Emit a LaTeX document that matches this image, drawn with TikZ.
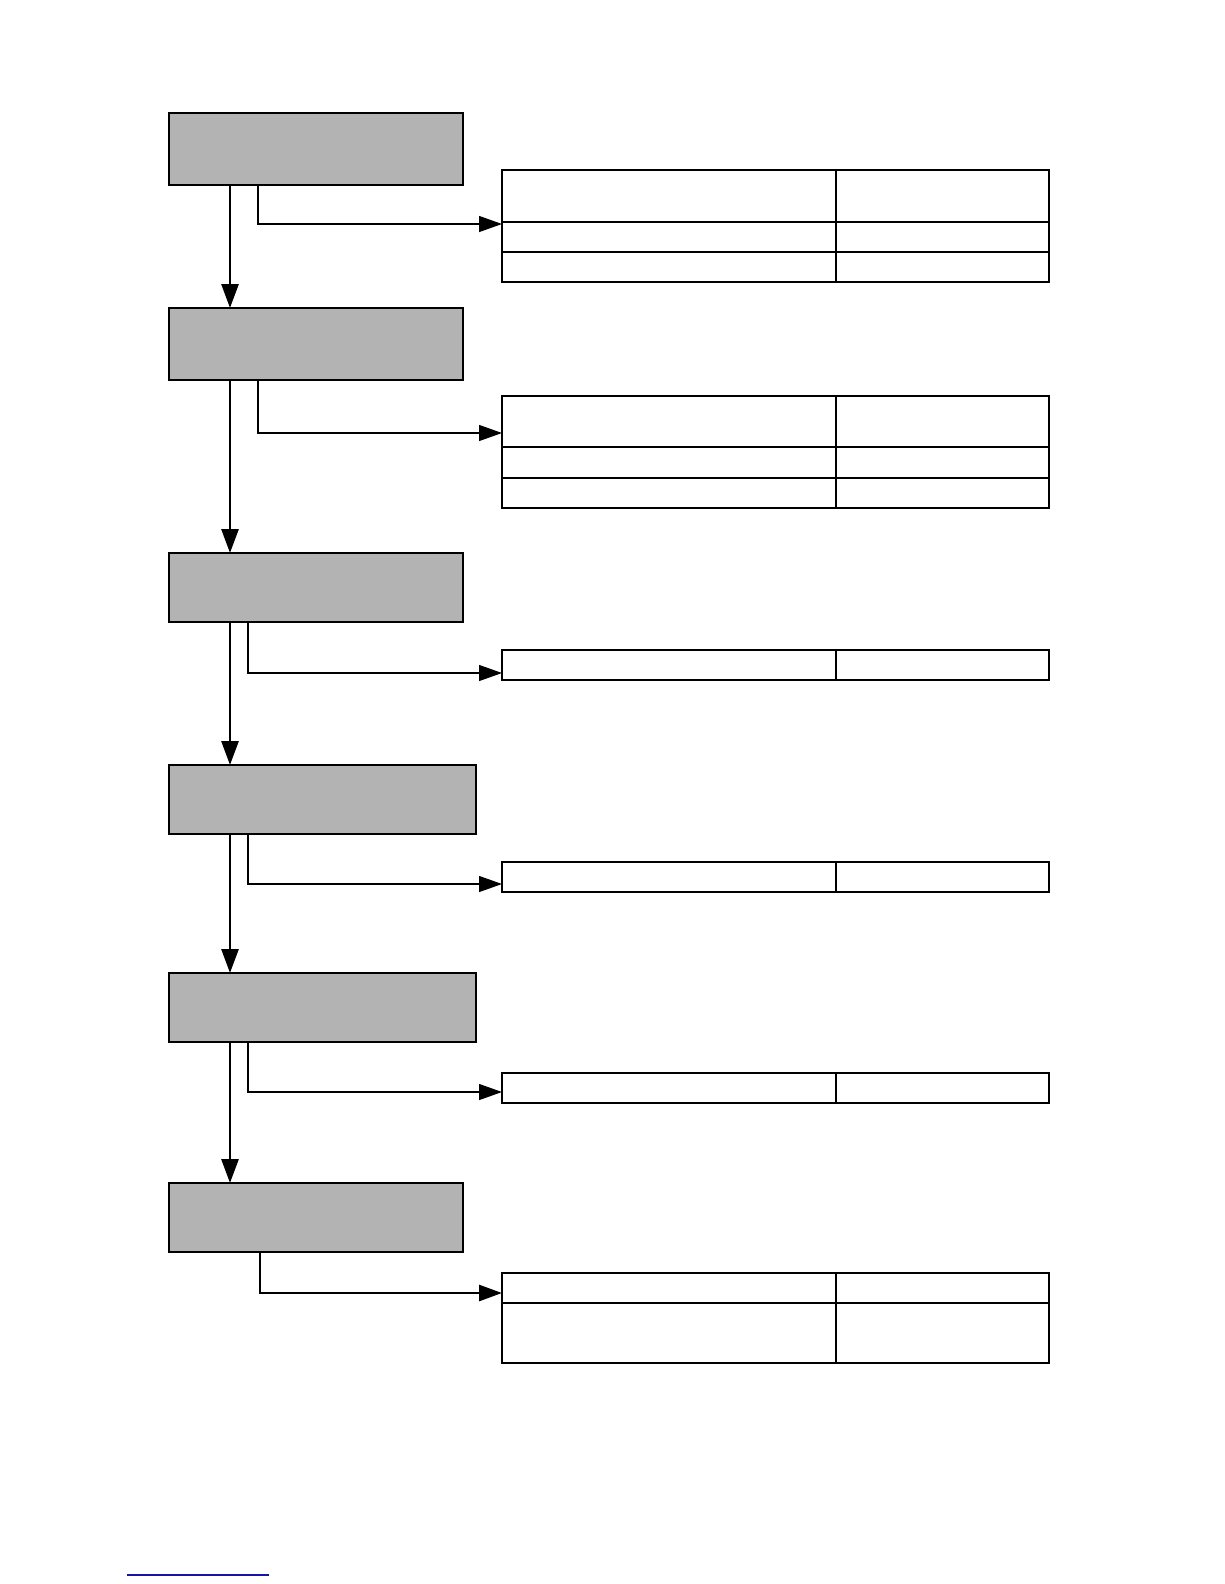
\documentclass[tikz,border=0pt]{standalone}
\usetikzlibrary{arrows.meta}

\definecolor{boxgrey}{RGB}{179,179,179}
\definecolor{linkblue}{RGB}{20,20,170}

\tikzset{
  stepbox/.style={draw, fill=boxgrey, line width=1.2pt, inner sep=0pt, outer sep=0pt, anchor=north west},
  tablebox/.style={draw, line width=1.3pt, inner sep=0pt, outer sep=0pt, anchor=north west, minimum width=547pt},
  mainarrow/.style={line width=2.8pt, -{Triangle[length=24pt,width=17pt]}},
  sidearrow/.style={line width=1.3pt, -{Triangle[length=23pt,width=16pt]}},
  rowline/.style={line width=1.3pt}
}

\begin{document}
\begin{tikzpicture}[x=1pt,y=-1pt]
\useasboundingbox (0,0) rectangle (1224,1584);

%Shape: grey steps
\node[stepbox, minimum width=294pt, minimum height=72pt] (s1) at (169,113) {};
\node[stepbox, minimum width=294pt, minimum height=72pt] (s2) at (169,308) {};
\node[stepbox, minimum width=294pt, minimum height=69pt] (s3) at (169,553) {};
\node[stepbox, minimum width=307pt, minimum height=69pt] (s4) at (169,765) {};
\node[stepbox, minimum width=307pt, minimum height=69pt] (s5) at (169,973) {};
\node[stepbox, minimum width=294pt, minimum height=69pt] (s6) at (169,1183) {};

%Shape: tables
\node[tablebox, minimum height=112pt] (t1) at (502,170) {};
\node[tablebox, minimum height=112pt] (t2) at (502,396) {};
\node[tablebox, minimum height=30pt] (t3) at (502,650) {};
\node[tablebox, minimum height=30pt] (t4) at (502,862) {};
\node[tablebox, minimum height=30pt] (t5) at (502,1073) {};
\node[tablebox, minimum height=90pt] (t6) at (502,1273) {};

%Table rules
\draw[rowline] ([yshift=-52pt]t1.north west) -- ([yshift=-52pt]t1.north east);
\draw[rowline] ([yshift=-82pt]t1.north west) -- ([yshift=-82pt]t1.north east);
\draw[rowline] ([xshift=334pt]t1.north west) -- ([xshift=334pt]t1.south west);
\draw[rowline] ([yshift=-51pt]t2.north west) -- ([yshift=-51pt]t2.north east);
\draw[rowline] ([yshift=-82pt]t2.north west) -- ([yshift=-82pt]t2.north east);
\draw[rowline] ([xshift=334pt]t2.north west) -- ([xshift=334pt]t2.south west);
\draw[rowline] ([xshift=334pt]t3.north west) -- ([xshift=334pt]t3.south west);
\draw[rowline] ([xshift=334pt]t4.north west) -- ([xshift=334pt]t4.south west);
\draw[rowline] ([xshift=334pt]t5.north west) -- ([xshift=334pt]t5.south west);
\draw[rowline] ([yshift=-30pt]t6.north west) -- ([yshift=-30pt]t6.north east);
\draw[rowline] ([xshift=334pt]t6.north west) -- ([xshift=334pt]t6.south west);

%Straight Lines: main flow
\draw[mainarrow] ([xshift=61pt]s1.south west) -- ([xshift=61pt]s2.north west);
\draw[mainarrow] ([xshift=61pt]s2.south west) -- ([xshift=61pt]s3.north west);
\draw[mainarrow] ([xshift=61pt]s3.south west) -- ([xshift=61pt]s4.north west);
\draw[mainarrow] ([xshift=61pt]s4.south west) -- ([xshift=61pt]s5.north west);
\draw[mainarrow] ([xshift=61pt]s5.south west) -- ([xshift=61pt]s6.north west);

%Straight Lines: to tables
\draw[sidearrow] ([xshift=89pt]s1.south west) |- ([yshift=-54pt]t1.north west);
\draw[sidearrow] ([xshift=89pt]s2.south west) |- ([yshift=-37pt]t2.north west);
\draw[sidearrow] ([xshift=79pt]s3.south west) |- ([yshift=-23pt]t3.north west);
\draw[sidearrow] ([xshift=79pt]s4.south west) |- ([yshift=-22pt]t4.north west);
\draw[sidearrow] ([xshift=79pt]s5.south west) |- ([yshift=-19pt]t5.north west);
\draw[sidearrow, line width=2.8pt] ([xshift=91pt]s6.south west) |- ([yshift=-20pt]t6.north west);

%Shape: footer rule
\draw[linkblue, line width=1.5pt] (127,1575) -- (269,1575);

\end{tikzpicture}
\end{document}
